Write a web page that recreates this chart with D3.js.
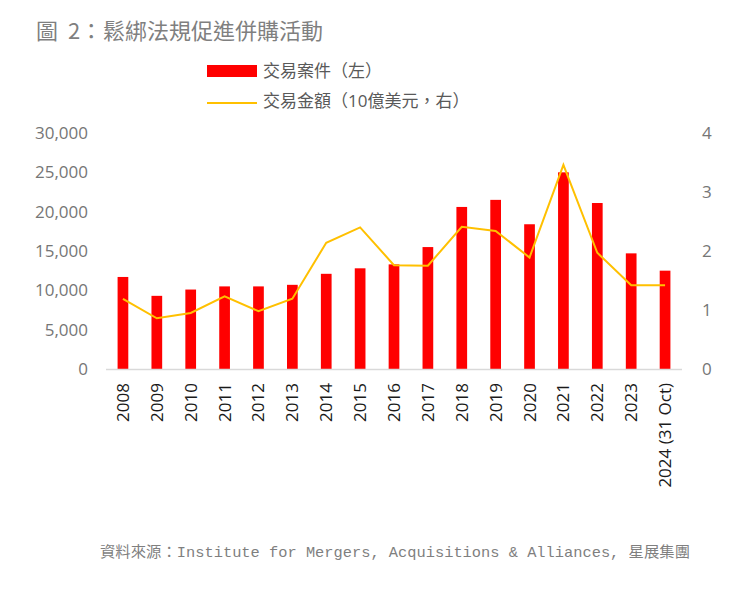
<!DOCTYPE html>
<html>
<head>
<meta charset="utf-8">
<script src="https://d3js.org/d3.v7.min.js"></script>
<style>
  body { margin: 0; background: #fff; }
  svg text { font-family: "Open Sans", "Noto Sans CJK TC", sans-serif; }
</style>
</head>
<body>
<svg id="chart" width="729" height="589"></svg>
<script>
var years = ["2008","2009","2010","2011","2012","2013","2014","2015","2016",
             "2017","2018","2019","2020","2021","2022","2023","2024 (31 Oct)"];
// 交易案件 (左軸)
var deals = [11700, 9300, 10100, 10500, 10500, 10700, 12100, 12800, 13300,
             15500, 20600, 21500, 18400, 25000, 21100, 14700, 12500];
// 交易金額 (10億美元, 右軸)
var values = [1.19, 0.86, 0.95, 1.23, 0.98, 1.19, 2.14, 2.40, 1.76,
              1.75, 2.41, 2.34, 1.89, 3.46, 1.97, 1.42, 1.42];
var leftTicks = [0, 5000, 10000, 15000, 20000, 25000, 30000];
var rightTicks = [0, 1, 2, 3, 4];

var svg = d3.select("#chart");

var x = d3.scaleBand().domain(years).range([106, 682])
  .paddingInner(0.684).paddingOuter(0.342);
var yL = d3.scaleLinear().domain([0, 30000]).range([369, 133]);
var yR = d3.scaleLinear().domain([0, 4]).range([369, 133]);

// title
var title = svg.append("text").attr("y", 39)
  .attr("font-size", 22).attr("fill", "#7f7f7f")
  .style("font-family", "'Noto Sans CJK TC', sans-serif");
title.append("tspan").attr("x", 36).text("圖");
title.append("tspan").attr("x", 68).text("2：");
title.append("tspan").attr("x", 103).text("鬆綁法規促進併購活動");

// legend
var lg = svg.append("g").style("font-family", "'Noto Sans CJK TC', sans-serif");
lg.append("rect").attr("x", 207).attr("y", 65).attr("width", 50).attr("height", 12).attr("fill", "#ff0000");
lg.append("text").attr("x", 263).attr("y", 77).attr("font-size", 17).attr("fill", "#595959").text("交易案件（左）");
lg.append("line").attr("x1", 207).attr("x2", 257).attr("y1", 103).attr("y2", 103)
  .attr("stroke", "#ffc000").attr("stroke-width", 2);
lg.append("text").attr("x", 263).attr("y", 107).attr("font-size", 17).attr("fill", "#595959").text("交易金額（10億美元，右）");

// left axis
var axL = svg.append("g").attr("transform", "translate(88,0)")
  .call(d3.axisLeft(yL).tickValues(leftTicks).tickSize(0).tickPadding(0).tickFormat(d3.format(",")));
axL.select(".domain").remove();
axL.selectAll("text").attr("font-size", 17).attr("fill", "#767676").style("font-family", "'Open Sans', sans-serif");

// right axis
var axR = svg.append("g").attr("transform", "translate(702,0)")
  .call(d3.axisRight(yR).tickValues(rightTicks).tickSize(0).tickPadding(0).tickFormat(d3.format("d")));
axR.select(".domain").remove();
axR.selectAll("text").attr("font-size", 17).attr("fill", "#767676").style("font-family", "'Open Sans', sans-serif");

// bars
svg.append("g").selectAll("rect").data(years).join("rect")
  .attr("x", function(d) { return x(d); })
  .attr("width", x.bandwidth())
  .attr("y", function(d, i) { return yL(deals[i]); })
  .attr("height", function(d, i) { return yL(0) - yL(deals[i]); })
  .attr("fill", "#ff0000");

// baseline
svg.append("line").attr("x1", 106).attr("x2", 682).attr("y1", 369.5).attr("y2", 369.5)
  .attr("stroke", "#d9d9d9").attr("stroke-width", 1.5);

// line
var line = d3.line()
  .x(function(d, i) { return x(years[i]) + x.bandwidth() / 2; })
  .y(function(d) { return yR(d); });
svg.append("path").datum(values).attr("d", line)
  .attr("fill", "none").attr("stroke", "#ffc000").attr("stroke-width", 2);

// x labels
svg.append("g").selectAll("text").data(years).join("text")
  .attr("transform", function(d) {
    return "translate(" + (x(d) + x.bandwidth() / 2 + 6) + ",383) rotate(-90)";
  })
  .attr("text-anchor", "end")
  .attr("font-size", 17).attr("fill", "#1a1a1a")
  .style("font-family", "'Open Sans', sans-serif")
  .text(function(d) { return d; });

// source
svg.append("text").attr("x", 100).attr("y", 557)
  .attr("font-size", 15).attr("fill", "#7f7f7f")
  .style("font-family", "'Liberation Mono', 'Noto Sans CJK TC', monospace")
  .attr("textLength", 590).attr("lengthAdjust", "spacingAndGlyphs")
  .text("資料來源：Institute for Mergers,  Acquisitions & Alliances, 星展集團");
</script>
</body>
</html>
